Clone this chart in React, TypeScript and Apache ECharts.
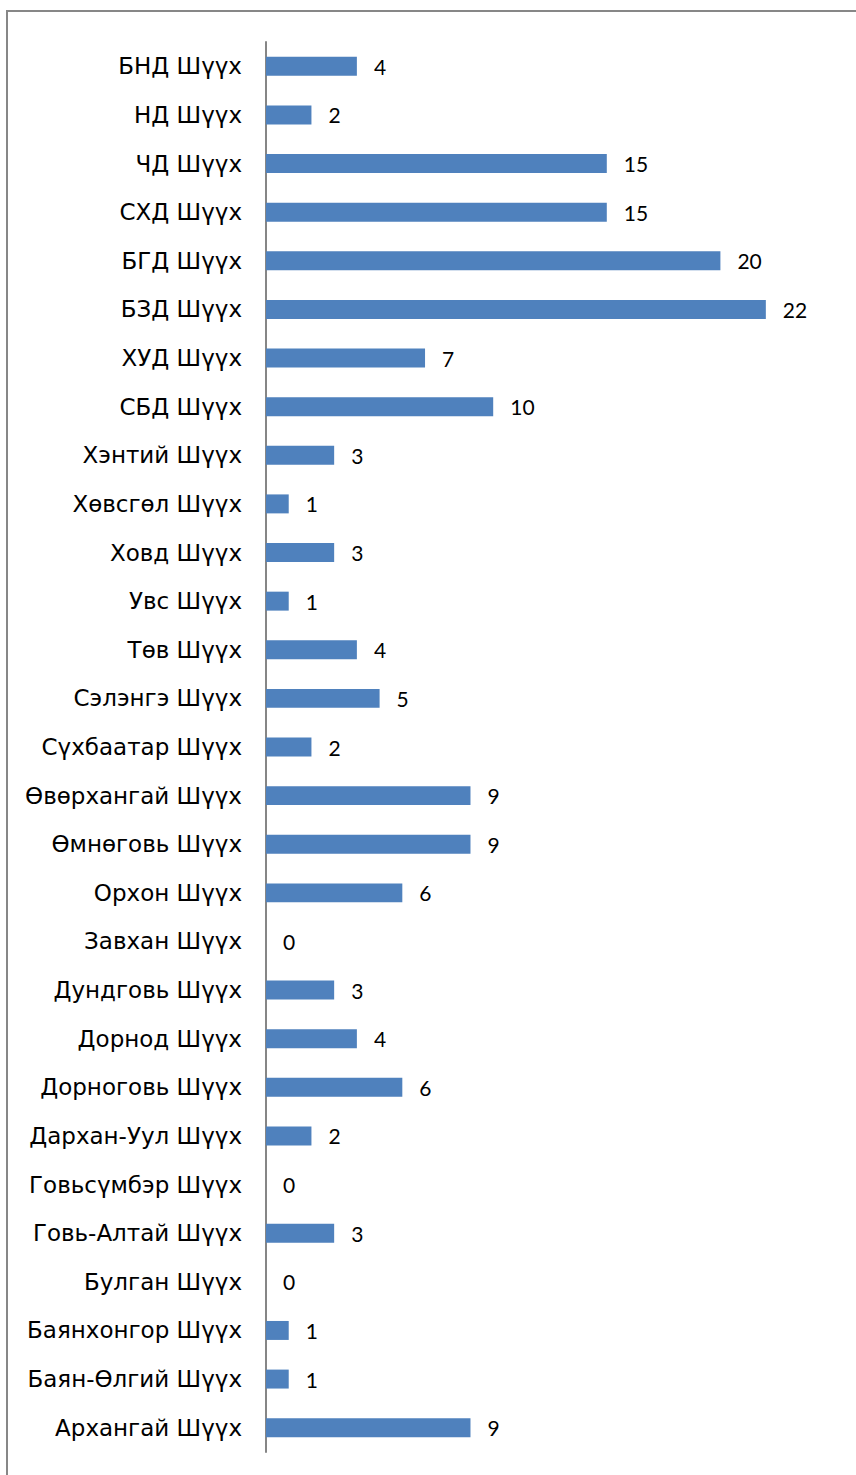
import React, { useEffect, useRef } from "react";
import * as echarts from "echarts";

const categories = [
  "БНД Шүүх", "НД Шүүх", "ЧД Шүүх", "СХД Шүүх", "БГД Шүүх", "БЗД Шүүх", "ХУД Шүүх", "СБД Шүүх",
  "Хэнтий Шүүх", "Хөвсгөл Шүүх", "Ховд Шүүх", "Увс Шүүх", "Төв Шүүх", "Сэлэнгэ Шүүх",
  "Сүхбаатар Шүүх", "Өвөрхангай Шүүх", "Өмнөговь Шүүх", "Орхон Шүүх", "Завхан Шүүх",
  "Дундговь Шүүх", "Дорнод Шүүх", "Дорноговь Шүүх", "Дархан-Уул Шүүх", "Говьсүмбэр Шүүх",
  "Говь-Алтай Шүүх", "Булган Шүүх", "Баянхонгор Шүүх", "Баян-Өлгий Шүүх", "Архангай Шүүх",
];
const values = [4, 2, 15, 15, 20, 22, 7, 10, 3, 1, 3, 1, 4, 5, 2, 9, 9, 6, 0, 3, 4, 6, 2, 0, 3, 0, 1, 1, 9];

export default function App() {
  const ref = useRef<HTMLDivElement>(null);
  useEffect(() => {
    const chart = echarts.init(ref.current!, null, { renderer: "svg" });
    chart.setOption({
      animation: false,
      backgroundColor: "#ffffff",
      graphic: [
        {
          type: "rect",
          shape: { x: 7, y: 11, width: 900, height: 1500 },
          style: { fill: "none", stroke: "#878787", lineWidth: 2 },
          silent: true,
        },
      ],
      grid: { left: 266, top: 42, width: 568, height: 1410, containLabel: false },
      xAxis: {
        type: "value",
        min: 0,
        max: 25,
        show: false,
      },
      yAxis: {
        type: "category",
        data: categories,
        inverse: true,
        axisLine: { show: true, lineStyle: { color: "#868686", width: 2 } },
        axisTick: { show: false },
        axisLabel: {
          color: "#000",
          fontSize: 23,
          fontFamily: "DejaVu Sans",
          margin: 24,
        },
        splitLine: { show: false },
      },
      series: [
        {
          type: "bar",
          data: values,
          barCategoryGap: "61%",
          itemStyle: { color: "#4f81bd" },
          label: {
            show: true,
            position: "right",
            distance: 17,
            color: "#000",
            fontSize: 21,
            fontFamily: "Lato",
          },
        },
      ],
    });
    return () => chart.dispose();
  }, []);
  return (
    <div
      ref={ref}
      style={{ position: "fixed", left: 0, top: 0, width: 856, height: 1475, background: "#fff" }}
    />
  );
}
